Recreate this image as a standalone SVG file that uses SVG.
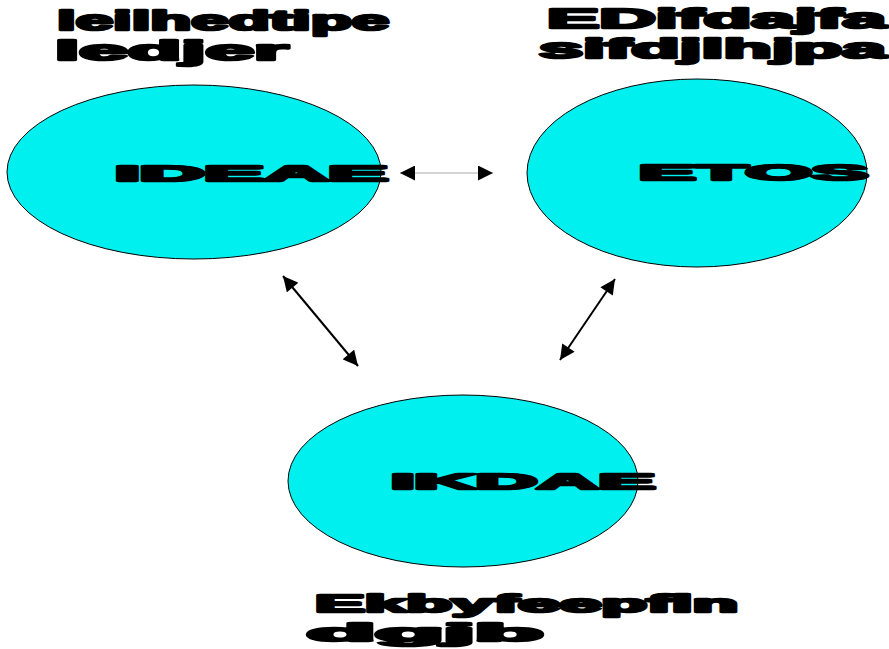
<svg xmlns="http://www.w3.org/2000/svg" width="889" height="649" viewBox="0 0 889 649">
<defs>
<style>
.node ellipse{fill:#00F0F0;stroke:#000;stroke-width:1}
text{font-family:"Liberation Sans",Arial,sans-serif;font-weight:bold;fill:#000;stroke:#000;stroke-width:2.5;stroke-linejoin:round}
.lab{font-size:27px}
.bot{font-size:24px}
.in{font-size:22px}
.conn line{stroke:#000;stroke-width:2}
.conn line.thin{stroke:#aaa;stroke-width:1}
</style>
<marker id="ah" viewBox="0 0 10 10" refX="10" refY="5" markerWidth="16" markerHeight="15" markerUnits="userSpaceOnUse" orient="auto-start-reverse">
<path d="M0,0 L10,5 L0,10 z" fill="#000"/>
</marker>
</defs>
<rect width="889" height="649" fill="#fff"/>
<g id="label-top-left">
<text class="lab" x="57" y="30" textLength="332" lengthAdjust="spacingAndGlyphs">leilhedtipe</text>
<text class="lab" x="55" y="60" textLength="233" lengthAdjust="spacingAndGlyphs">ledjer</text>
</g>
<g id="label-top-right">
<text class="lab" x="547" y="28" textLength="339" lengthAdjust="spacingAndGlyphs">EDifdajfa</text>
<text class="lab" x="539" y="58" textLength="347" lengthAdjust="spacingAndGlyphs">sifdjlhjpa</text>
</g>
<g id="label-bottom">
<text class="bot" x="315" y="612" textLength="423" lengthAdjust="spacingAndGlyphs">Ekbyfeepfln</text>
<text class="bot" x="307" y="641" textLength="236" lengthAdjust="spacingAndGlyphs">dgjb</text>
</g>
<g id="node-left" class="node">
<ellipse cx="194" cy="172" rx="187" ry="87"/>
<text class="in" x="115" y="181" textLength="273" lengthAdjust="spacingAndGlyphs">IDEAE</text>
</g>
<g id="node-right" class="node">
<ellipse cx="697" cy="173" rx="170" ry="94"/>
<text class="in" x="639" y="180" textLength="229" lengthAdjust="spacingAndGlyphs">ETOS</text>
</g>
<g id="node-bottom" class="node">
<ellipse cx="463" cy="481" rx="175" ry="86"/>
<text class="in" x="391" y="489" textLength="264" lengthAdjust="spacingAndGlyphs">IKDAE</text>
</g>
<g id="connectors" class="conn">
<line class="thin" x1="400" y1="173" x2="493" y2="173" marker-start="url(#ah)" marker-end="url(#ah)"/>
<line x1="283" y1="276" x2="358" y2="366" marker-start="url(#ah)" marker-end="url(#ah)"/>
<line x1="615" y1="279" x2="560" y2="360" marker-start="url(#ah)" marker-end="url(#ah)"/>
</g>
</svg>
